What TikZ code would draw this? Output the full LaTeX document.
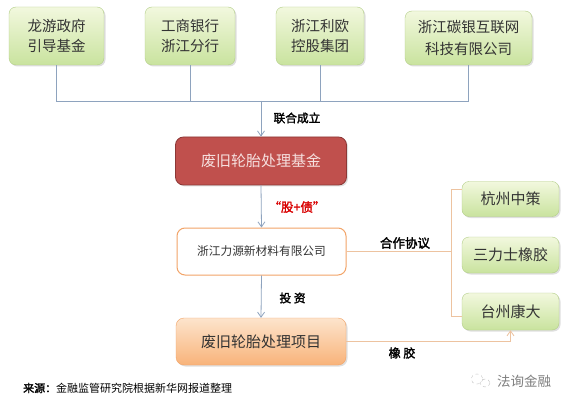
\documentclass[tikz,border=0pt]{standalone}
\usepackage{fontspec}
\setmainfont{Noto Sans CJK SC}
\newfontfamily\boldcjk{Noto Sans CJK SC}[FakeBold=2]
\usetikzlibrary{shadows,arrows.meta}
\definecolor{lineblue}{HTML}{8EA3BE}
\definecolor{lineorange}{HTML}{EDC3A0}
\definecolor{greentop}{HTML}{F2F8DE}
\definecolor{greenbot}{HTML}{C9E39E}
\definecolor{greenedge}{HTML}{B3CE88}
\definecolor{fundred}{HTML}{C0504D}
\definecolor{fundedge}{HTML}{8C3836}
\definecolor{fundtext}{HTML}{F6E0DF}
\definecolor{projtop}{HTML}{FDE4CC}
\definecolor{projbot}{HTML}{F8B37A}
\definecolor{projedge}{HTML}{F2A468}
\definecolor{textgray}{HTML}{333333}
\begin{document}
\begin{tikzpicture}[x=1pt, y=-1pt,
    every node/.style={inner sep=0pt, align=center, text=textgray},
    boxshadow/.style={drop shadow={opacity=0.25, shadow xshift=1.5pt, shadow yshift=-1.5pt}},
    greenbox/.style={draw=greenedge, rounded corners=7pt, top color=greentop, bottom color=greenbot, boxshadow, font=\fontsize{14.5}{20}\selectfont},
    fundbox/.style={draw=fundedge, line width=0.8pt, rounded corners=8pt, fill=fundred, boxshadow, text=fundtext, font=\fontsize{15}{18}\selectfont},
    firmbox/.style={draw=projedge, line width=1pt, rounded corners=8pt, fill=white, font=\fontsize{11.7}{14}\selectfont},
    projbox/.style={draw=projedge, rounded corners=8pt, top color=projtop, bottom color=projbot, boxshadow, font=\fontsize{15}{18}\selectfont},
    blueline/.style={draw=lineblue, line width=0.8pt},
    orangeline/.style={draw=lineorange, line width=0.8pt},
    tip/.style={-{Straight Barb[length=5pt, width=7pt]}},
    label/.style={text=black, font=\boldcjk\fontsize{12}{14}\selectfont}]
  \useasboundingbox[fill=white] (0,0) rectangle (576,409);

  % Founders
  \node[greenbox, minimum width=95, minimum height=58] (S1) at (56.5,36) {龙游政府\\引导基金};
  \node[greenbox, minimum width=90, minimum height=58] (S2) at (190,36) {工商银行\\浙江分行};
  \node[greenbox, minimum width=88, minimum height=58] (S3) at (320,36) {浙江利欧\\控股集团};
  \node[greenbox, minimum width=127, minimum height=54, font=\fontsize{14.5}{22}\selectfont] (S4) at (468.5,38) {浙江碳银互联网\\科技有限公司};

  % Fund, company and project
  \node[fundbox, minimum width=171, minimum height=48] (F) at (261,161) {废旧轮胎处理基金};
  \node[firmbox, minimum width=169, minimum height=47] (C) at (261.5,251.5) {浙江力源新材料有限公司};
  \node[projbox, minimum width=170, minimum height=47] (P) at (261,341.5) {废旧轮胎处理项目};

  % Partners
  \node[greenbox, minimum width=97, minimum height=35, font=\fontsize{15}{18}\selectfont] (R1) at (510.5,199) {杭州中策};
  \node[greenbox, minimum width=97, minimum height=36, font=\fontsize{15}{18}\selectfont] (R2) at (510.5,255) {三力士橡胶};
  \node[greenbox, minimum width=97, minimum height=37, font=\fontsize{15}{18}\selectfont] (R3) at (510.5,311.5) {台州康大};

  % Joining lines
  \coordinate (J) at (261,101);
  \draw[blueline] (S1.south) |- (S4.south |- J) -- (S4.south);
  \draw[blueline] (S2.south) -- (S2.south |- J);
  \draw[blueline] (S3.south) -- (S3.south |- J);
  \draw[blueline, tip] (J) -- (F.north);
  \draw[blueline, tip] (F.south) -- (C.north);
  \draw[blueline, tip] (C.south) -- (P.north);

  % Bracket to partners
  \coordinate (BT) at (451,189);
  \coordinate (BB) at (451,316);
  \draw[orangeline] (C.east) -- (BT |- C.east);
  \draw[orangeline] (R1.west |- BT) -- (BT) -- (BB) -- (R3.west |- BB);
  \draw[orangeline, tip] (P.east) -| (R3.south);

  % Labels
  \node[label, font=\boldcjk\fontsize{11.7}{14}\selectfont] (L1) at (297,118) {联合成立};
  \node[label, text=red!85!black, font=\boldcjk\fontsize{12.5}{14}\selectfont] (L2) at (297,207) {“股+债”};
  \node[label, font=\boldcjk\fontsize{12.5}{14}\selectfont] (L3) at (405,243) {合作协议};
  \node[label, font=\boldcjk\fontsize{11.7}{14}\selectfont] (L4) at (292.5,298) {投\ 资};
  \node[label] (L5) at (402,353) {橡\ 胶};

  % Source and mark
  \node[anchor=west, text=black, font=\fontsize{11}{13}\selectfont] (src) at (23,388) {{\boldcjk 来源：}金融监管研究院根据新华网报道整理};
  \node[anchor=west, text=gray, font=\fontsize{13.5}{16}\selectfont] (mark) at (497,381) {法询金融};
  \draw[gray!50, dashed] (477,379) ellipse (6 and 5);
  \draw[gray!50, dashed] (485,383) ellipse (5 and 4);
\end{tikzpicture}
\end{document}
